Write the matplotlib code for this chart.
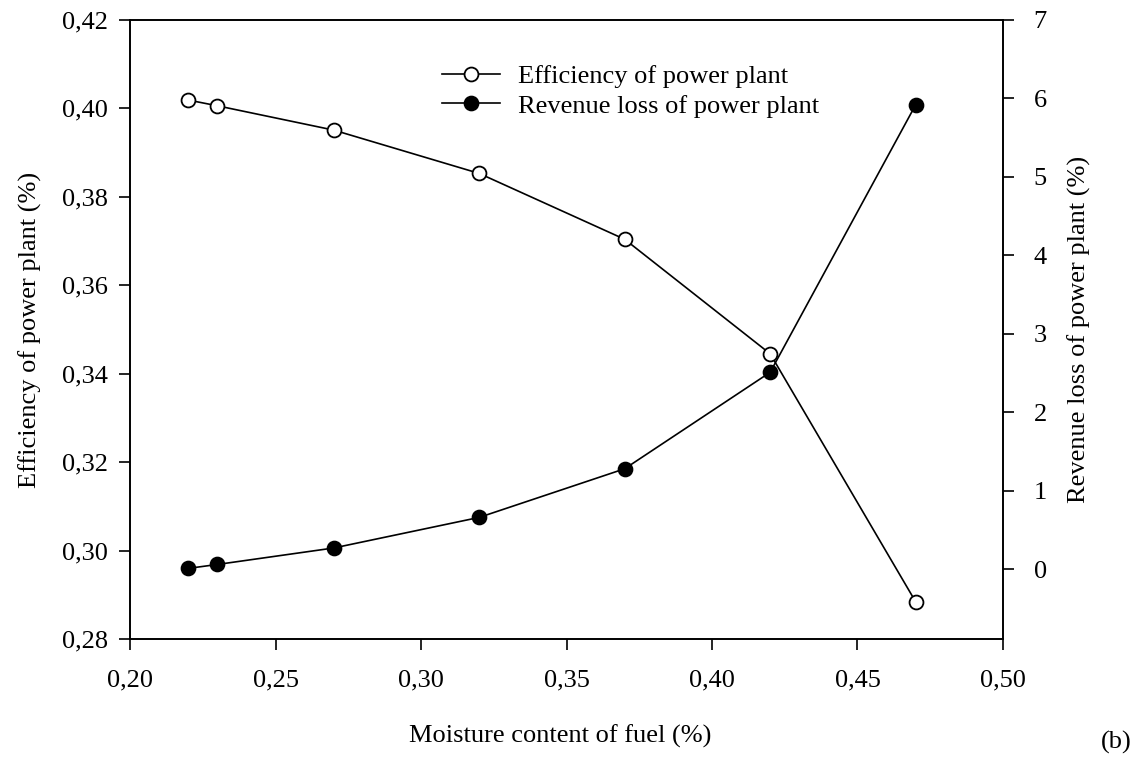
import numpy as np
import matplotlib
matplotlib.use("Agg")
import matplotlib.pyplot as plt
from matplotlib.ticker import FuncFormatter

moisture = [0.22, 0.23, 0.27, 0.32, 0.37, 0.42, 0.47]
efficiency = [0.4019, 0.4006, 0.3951, 0.3853, 0.3704, 0.3445, 0.2884]
revenue_loss = [0.01, 0.06, 0.27, 0.66, 1.28, 2.51, 5.92]

plt.rcParams["font.family"] = ["Liberation Serif", "DejaVu Serif"]
plt.rcParams["font.size"] = 19

def comma(v, pos):
    return ("%.2f" % v).replace(".", ",")

fig = plt.figure(figsize=(11.4, 7.6), dpi=100)
ax = fig.add_axes([130/1140, 1-639/760, 873/1140, 619/760])
ax2 = ax.twinx()

l1, = ax.plot(moisture, efficiency, "-o", color="black", lw=1.2,
              ms=10, mfc="white", mec="black", mew=1.3,
              label="Efficiency of power plant", zorder=3)
l2, = ax2.plot(moisture, revenue_loss, "-o", color="black", lw=1.2,
               ms=10, mfc="black", mec="black", mew=1.3,
               label="Revenue loss of power plant")

ax.set_xlim(0.20, 0.50)
ax.set_ylim(0.28, 0.42)
ax2.set_ylim(-0.89, 7)
ax.set_xticks(np.arange(0.20, 0.501, 0.05))
ax.set_yticks(np.arange(0.28, 0.421, 0.02))
ax2.set_yticks(range(0, 8))
ax.xaxis.set_major_formatter(FuncFormatter(comma))
ax.yaxis.set_major_formatter(FuncFormatter(comma))

for a in (ax, ax2):
    a.tick_params(direction="out", length=8, width=1.2)
    for s in a.spines.values():
        s.set_linewidth(1.2)
ax.tick_params(axis="x", pad=14)
ax.tick_params(axis="y", pad=8)
ax2.tick_params(axis="y", pad=14)

ax.set_xlabel("Moisture content of fuel (%)")
ax.xaxis.set_label_coords(0.4926, -0.139)
ax.set_ylabel("Efficiency of power plant (%)", labelpad=14)
ax2.set_ylabel("Revenue loss of power plant (%)", labelpad=15)

ax.legend(handles=[l1, l2], loc="upper left", bbox_to_anchor=(0.357, 0.928),
          frameon=False, borderpad=0, borderaxespad=0, handlelength=2.2,
          handletextpad=0.7, labelspacing=0.23)
ax.set_zorder(ax2.get_zorder() + 1)
ax.patch.set_visible(False)

fig.text(1132/1140, 1-742/760, "(b)", ha="right", va="center")

fig.savefig("out.png", dpi=100)
